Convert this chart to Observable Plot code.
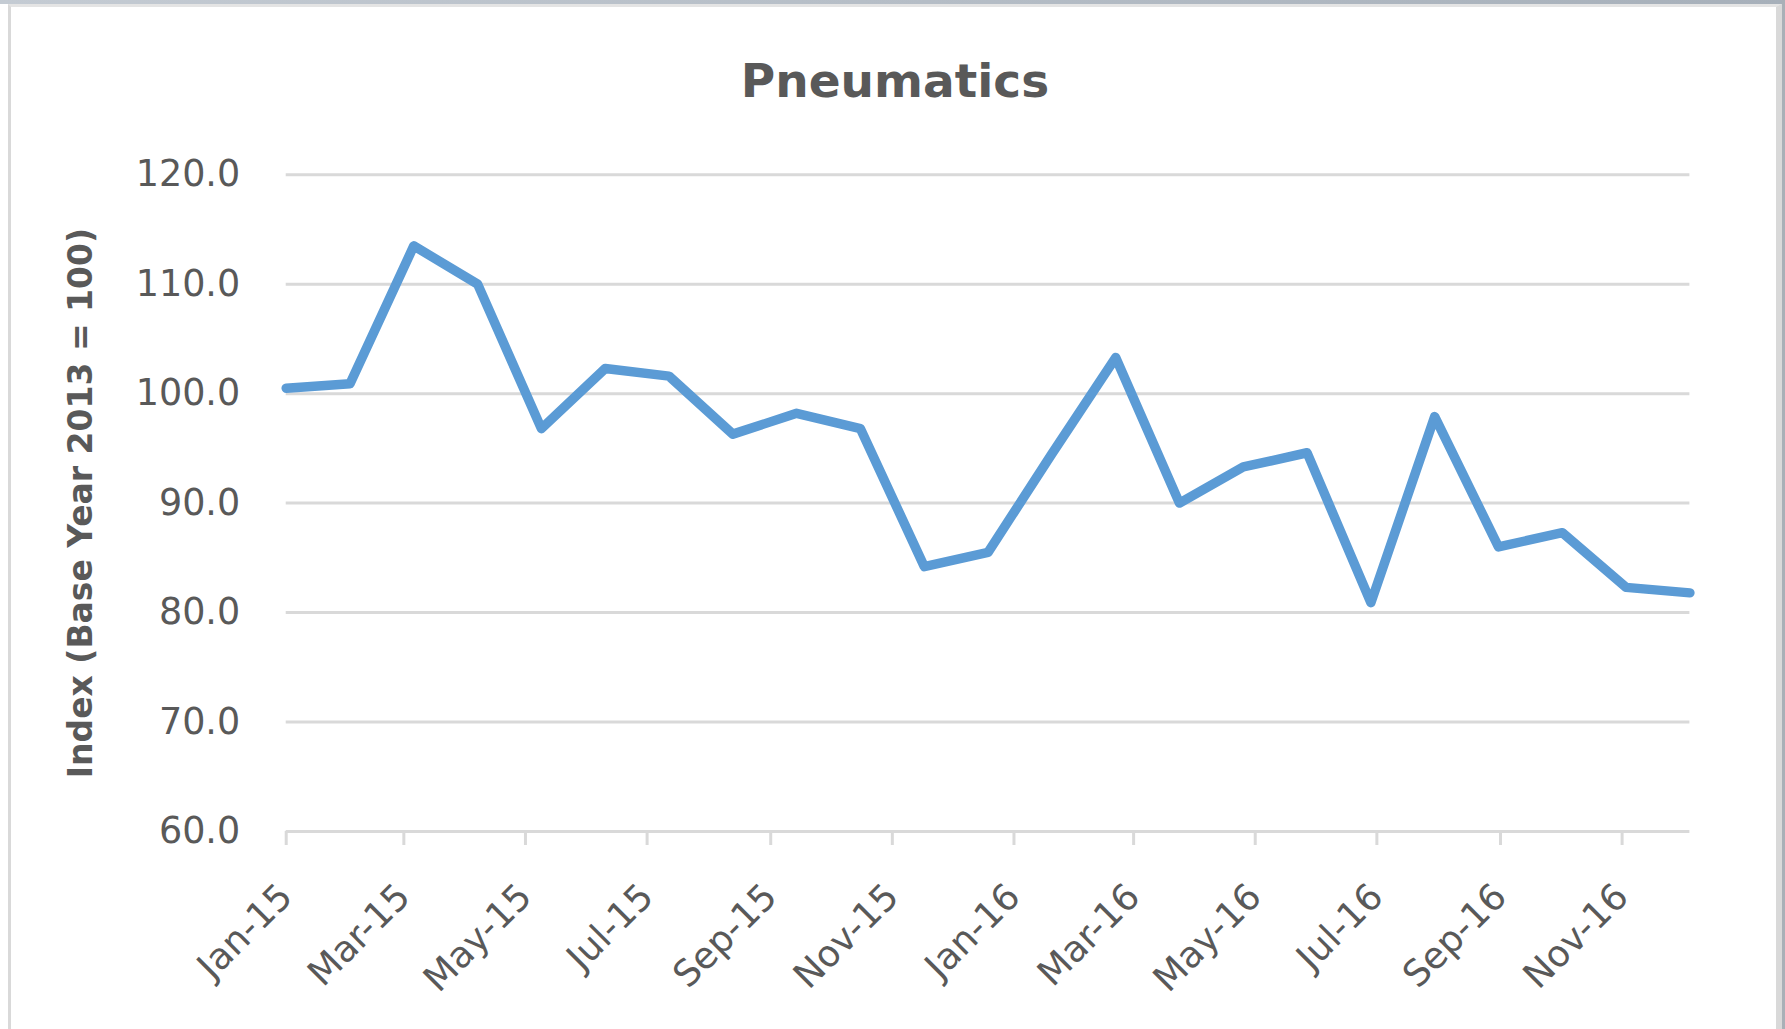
<!DOCTYPE html>
<html>
<head>
<meta charset="utf-8">
<script src="https://cdn.jsdelivr.net/npm/d3@7"></script>
<script src="https://cdn.jsdelivr.net/npm/@observablehq/plot@0.6"></script>
<style>
  body { margin: 0; background: #fff; }
  #wrap { position: relative; width: 1785px; height: 1029px; overflow: hidden; background: #fff; }
  #topband { position: absolute; left: 0; top: 0; width: 1785px; height: 4px; background: linear-gradient(90deg, #c4cbd3, #a7b0ba); }
  #rightband { position: absolute; right: 0; top: 0; width: 3px; height: 1029px; background: #a9b0b7; }
  #card { position: absolute; left: 8px; top: 4px; width: 1774px; height: 1040px; box-sizing: border-box;
          border-left: 3px solid #d9d9d9; border-top: 3px solid #e4e4e4; border-right: 6px solid #d9d9d9; }
  #title { position: absolute; left: 0; top: 57px; width: 1790px; text-align: center;
           font-family: "DejaVu Sans", sans-serif; font-weight: bold; font-size: 47px; line-height: 47px; color: #595959; }
  #chart { position: absolute; left: 0; top: 120px; }
</style>
</head>
<body>
<div id="wrap">
  <div id="topband"></div>
  <div id="card"></div>
  <div id="rightband"></div>
  <div id="title">Pneumatics</div>
  <div id="chart"></div>
</div>
<script>
// Observation dates (points are evenly spaced across the date axis in the picture)
const periods = [
  "2015-01-01", "2015-02-02", "2015-03-06", "2015-04-07", "2015-05-09", "2015-06-10",
  "2015-07-12", "2015-08-13", "2015-09-14", "2015-10-16", "2015-11-17", "2015-12-19",
  "2016-01-20", "2016-02-21", "2016-03-24", "2016-04-25", "2016-05-27", "2016-06-28",
  "2016-07-30", "2016-08-31", "2016-10-02", "2016-11-03", "2016-12-05"
];
// Index values (Base Year 2013 = 100)
const indexValues = [
  100.5, 100.9, 113.5, 110.0, 96.8, 102.3,
  101.6, 96.3, 98.2, 96.8, 84.2, 85.5,
  94.5, 103.3, 90.0, 93.3, 94.6, 80.9,
  97.9, 86.0, 87.3, 82.3, 81.8
];
const yTicks = [60, 70, 80, 90, 100, 110, 120];
const xTicks = [
  "2015-01-01", "2015-03-01", "2015-05-01", "2015-07-01", "2015-09-01", "2015-11-01",
  "2016-01-01", "2016-03-01", "2016-05-01", "2016-07-01", "2016-09-01", "2016-11-01"
];
const xDomain = ["2015-01-01", "2016-12-05"];
const yTitle = "Index (Base Year 2013 = 100)";

const data = periods.map((p, i) => ({date: new Date(p), value: indexValues[i]}));
const fmt = d3.utcFormat("%b-%y");

const chart = Plot.plot({
  width: 1785,
  height: 909,
  marginLeft: 285.7,
  marginRight: 95.6,
  marginTop: 54.2,
  marginBottom: 198,
  style: {fontFamily: "DejaVu Sans, sans-serif", fontSize: "36.5px", color: "#595959", background: "transparent", overflow: "visible"},
  x: {type: "utc", domain: xDomain.map(d => new Date(d))},
  y: {domain: [60, 120]},
  marks: [
    Plot.gridY(yTicks, {stroke: "#d9d9d9", strokeWidth: 3, strokeOpacity: 1}),
    Plot.axisY(yTicks, {tickSize: 0, tickPadding: 46, tickFormat: d => d.toFixed(1), fill: "#595959", label: null}),
    Plot.axisX(xTicks.map(d => new Date(d)), {
      tickSize: 14, tickPadding: 45, tickRotate: -45, tickFormat: fmt,
      stroke: "#d9d9d9", strokeWidth: 3, strokeOpacity: 1, fill: "#595959", label: null
    }),
    Plot.line(data, {x: "date", y: "value", stroke: "#5b9bd5", strokeWidth: 9.5}),
    Plot.text([yTitle], {frameAnchor: "left", textAnchor: "middle", dx: -205, rotate: -90, text: d => d,
      fontWeight: "bold", fontSize: 33, fill: "#595959"})
  ]
});
document.getElementById("chart").appendChild(chart);
</script>
</body>
</html>
